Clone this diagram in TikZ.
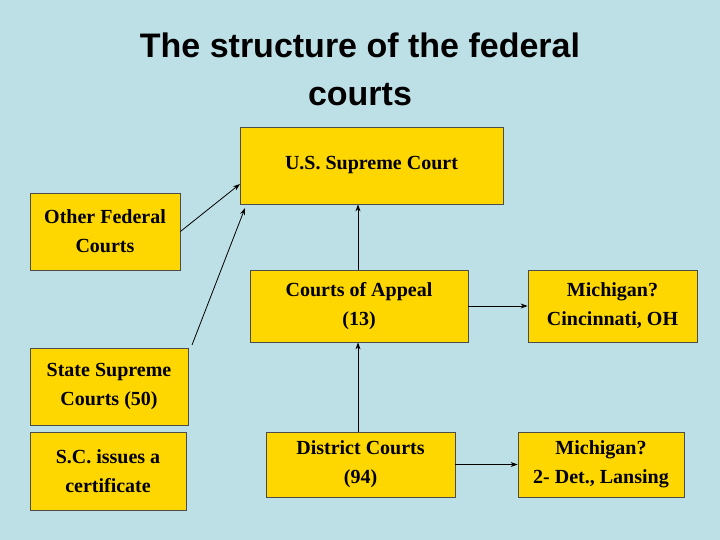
\documentclass[tikz,border=0pt]{standalone}
\usepackage{fontspec}
\usetikzlibrary{arrows.meta}
\setmainfont{Liberation Serif}
\newfontfamily\titlefont{Liberation Sans}
\definecolor{bg}{HTML}{BDE0E6}
\definecolor{box}{HTML}{FFD700}
\begin{document}
\begin{tikzpicture}[x=1pt,y=-1pt,
  cbox/.style={draw=black!70,line width=0.8pt,fill=box,align=center,font=\fontsize{20}{29}\selectfont\bfseries,inner sep=0pt},
  arr/.style={-{Stealth[length=7pt,width=5pt]},line width=0.8pt}]
\fill[bg] (0,0) rectangle (720,540);
\useasboundingbox (0,0) rectangle (720,540);
\node[font=\titlefont\fontsize{34}{48}\selectfont\bfseries,align=center] (title) at (360,69) {The structure of the federal\\courts};
\node[cbox,minimum width=263pt,minimum height=77pt] (sup) at (371.5,165.5) {U.S. Supreme Court};
\node[cbox,minimum width=150pt,minimum height=77pt] (ofc) at (105,231.5) {Other Federal\\Courts};
\node[cbox,minimum width=218pt,minimum height=72pt] (app) at (359,306) {Courts of Appeal\\(13)};
\node[cbox,minimum width=169pt,minimum height=72pt] (mi1) at (612.5,306) {Michigan?\\Cincinnati, OH};
\node[cbox,minimum width=158pt,minimum height=77pt] (ssc) at (109,386.5) {State Supreme\\Courts (50)};
\node[cbox,minimum width=156pt,minimum height=78pt] (sci) at (108,471) {S.C. issues a\\certificate};
\node[cbox,minimum width=189pt,minimum height=65pt] (dis) at (360.5,464.5) {District Courts\\(94)};
\node[cbox,minimum width=166pt,minimum height=65pt] (mi2) at (601,464.5) {Michigan?\\2- Det., Lansing};
\coordinate (t1) at (240,184);
\coordinate (t2) at (245,208);
\coordinate (s2) at (192,345);
\draw[arr] (app.north -| 358,0) -- (sup.south -| 358,0);
\draw[arr] (dis.north -| 358,0) -- (app.south -| 358,0);
\draw[arr] (app.east) -- (mi1.west);
\draw[arr] (dis.east) -- (mi2.west);
\draw[arr] (ofc.east) -- (t1);
\draw[arr] (s2) -- (t2);
\end{tikzpicture}
\end{document}
